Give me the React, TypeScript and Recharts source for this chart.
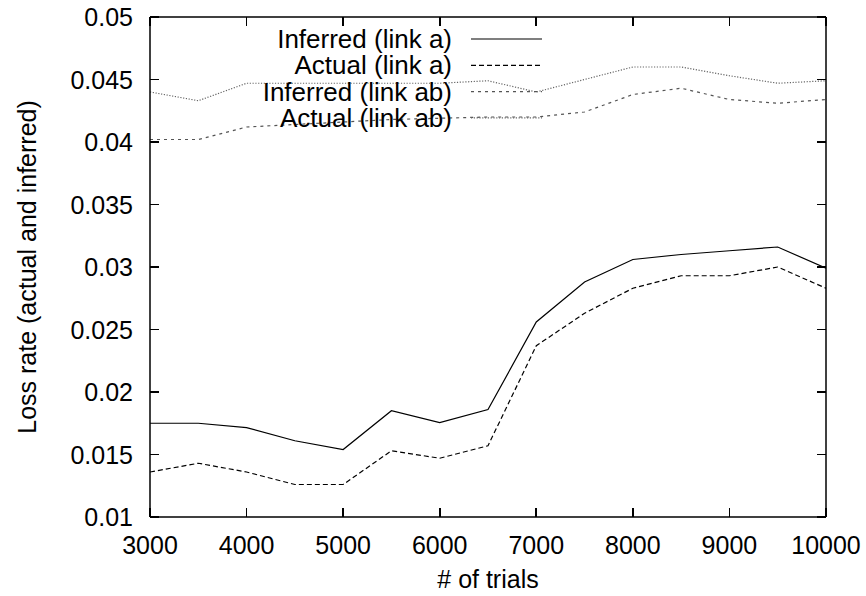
import { LineChart, Line, XAxis, YAxis, Legend, Label } from 'recharts'

const trials = [3000, 3500, 4000, 4500, 5000, 5500, 6000, 6500, 7000, 7500, 8000, 8500, 9000, 9500, 10000]
const inferredA = [0.0175, 0.0175, 0.01715, 0.0161, 0.0154, 0.0185, 0.01755, 0.0186, 0.0256, 0.0288, 0.0306, 0.031, 0.0313, 0.0316, 0.0299]
const actualA = [0.0136, 0.0143, 0.0136, 0.0126, 0.0126, 0.0153, 0.0147, 0.0157, 0.0237, 0.0263, 0.0283, 0.0293, 0.0293, 0.03, 0.0283]
const inferredAB = [0.0402, 0.0402, 0.0412, 0.0414, 0.0416, 0.0418, 0.0419, 0.042, 0.042, 0.0424, 0.0438, 0.0443, 0.0434, 0.0431, 0.0434]
const actualAB = [0.044, 0.0433, 0.0447, 0.0447, 0.0447, 0.0447, 0.0447, 0.0449, 0.044, 0.045, 0.046, 0.046, 0.0453, 0.0447, 0.0449]

const xTicks = [3000, 4000, 5000, 6000, 7000, 8000, 9000, 10000]
const yTicks = [0.01, 0.015, 0.02, 0.025, 0.03, 0.035, 0.04, 0.045, 0.05]

const data = trials.map((x, i) => ({
  x,
  inferredA: inferredA[i],
  actualA: actualA[i],
  inferredAB: inferredAB[i],
  actualAB: actualAB[i],
}))

const series = [
  { key: 'inferredA', name: 'Inferred (link a)', stroke: '#000', dash: undefined, width: 1.2 },
  { key: 'actualA', name: 'Actual (link a)', stroke: '#000', dash: '5 3', width: 1.2 },
  { key: 'inferredAB', name: 'Inferred (link ab)', stroke: '#555', dash: '3 4', width: 1.2 },
  { key: 'actualAB', name: 'Actual (link ab)', stroke: '#666', dash: '1.2 1.6', width: 1.2 },
]

const font = '"Liberation Sans", Arial, sans-serif'
const fontSize = 25
const MARGIN = 19
const TICK = 9
const tickStyle = { stroke: '#000', strokeWidth: 1.6, shapeRendering: 'crispEdges' as const }

// labelled axes: tick mark drawn inward from the axis line, label outside
const XTick = (props: any) => {
  const { x, y, payload } = props
  return (
    <g>
      <line x1={x} x2={x} y1={y - MARGIN} y2={y - MARGIN - TICK} {...tickStyle} />
      <text x={x} y={y} dy="0.72em" textAnchor="middle" fontSize={fontSize} fontFamily={font} fill="#000">
        {payload.value}
      </text>
    </g>
  )
}

const YTick = (props: any) => {
  const { x, y, payload } = props
  return (
    <g>
      <line x1={x + MARGIN} x2={x + MARGIN + TICK} y1={y} y2={y} {...tickStyle} />
      <text x={x + 2} y={y} dy="0.36em" textAnchor="end" fontSize={fontSize} fontFamily={font} fill="#000">
        {payload.value}
      </text>
    </g>
  )
}

// top / right axes: tick marks only
const TopTick = (props: any) => (
  <line x1={props.x} x2={props.x} y1={props.y} y2={props.y + TICK} {...tickStyle} />
)

const RightTick = (props: any) => (
  <line x1={props.x} x2={props.x - TICK} y1={props.y} y2={props.y} {...tickStyle} />
)

const renderLegend = () => (
  <svg width={866} height={140} style={{ display: 'block' }}>
    {series.map((s, i) => {
      const y = 39 + i * 26.3
      return (
        <g key={s.key}>
          <text x={452} y={y} dy="0.35em" textAnchor="end" fontSize={26} fontFamily={font} fill="#000">
            {s.name}
          </text>
          <line x1={471} x2={542} y1={y} y2={y} stroke={s.stroke} strokeWidth={s.width} strokeDasharray={s.dash} />
        </g>
      )
    })}
  </svg>
)

export default function App() {
  return (
    <div style={{ position: 'absolute', left: 0, top: 0, background: '#fff' }}>
      <LineChart width={866} height={596} data={data} margin={{ top: 16, right: 39, bottom: 0, left: 0 }}>
        <XAxis
          xAxisId="b"
          dataKey="x"
          type="number"
          domain={[3000, 10000]}
          ticks={xTicks}
          allowDataOverflow
          height={79}
          tickLine={false}
          tickSize={0}
          tickMargin={MARGIN}
          tick={<XTick />}
          axisLine={{ stroke: '#000', strokeWidth: 1.5 }}
        >
          <Label value="# of trials" position="insideBottom" offset={8} fontSize={fontSize} fontFamily={font} fill="#000" />
        </XAxis>
        <XAxis
          xAxisId="t"
          orientation="top"
          dataKey="x"
          type="number"
          domain={[3000, 10000]}
          ticks={xTicks}
          allowDataOverflow
          height={1}
          tickLine={false}
          tickSize={0}
          tickMargin={0}
          tick={<TopTick />}
          axisLine={{ stroke: '#000', strokeWidth: 1.5 }}
        />
        <YAxis
          yAxisId="l"
          type="number"
          domain={[0.01, 0.05]}
          ticks={yTicks}
          allowDataOverflow
          width={150}
          tickLine={false}
          tickSize={0}
          tickMargin={MARGIN}
          tick={<YTick />}
          axisLine={{ stroke: '#000', strokeWidth: 1.5 }}
        >
          <Label
            content={(p: any) => {
              const vb = p.viewBox
              const cy = vb.y + vb.height / 2
              return (
                <text x={27} y={cy} dy="0.35em" transform={`rotate(-90 27 ${cy})`} textAnchor="middle" fontSize={fontSize} fontFamily={font} fill="#000">
                  Loss rate (actual and inferred)
                </text>
              )
            }}
          />
        </YAxis>
        <YAxis
          yAxisId="r"
          orientation="right"
          type="number"
          domain={[0.01, 0.05]}
          ticks={yTicks}
          allowDataOverflow
          width={1}
          tickLine={false}
          tickSize={0}
          tickMargin={0}
          tick={<RightTick />}
          axisLine={{ stroke: '#000', strokeWidth: 1.5 }}
        />
        <Legend
          content={renderLegend}
          layout="vertical"
          align="center"
          verticalAlign="middle"
          wrapperStyle={{ top: 0, left: 0, width: 866, pointerEvents: 'none' }}
        />
        {series.map((s) => (
          <Line
            key={s.key}
            xAxisId="b"
            yAxisId="l"
            type="linear"
            dataKey={s.key}
            name={s.name}
            stroke={s.stroke}
            strokeWidth={s.width}
            strokeDasharray={s.dash}
            dot={false}
            activeDot={false}
            isAnimationActive={false}
          />
        ))}
      </LineChart>
    </div>
  )
}
